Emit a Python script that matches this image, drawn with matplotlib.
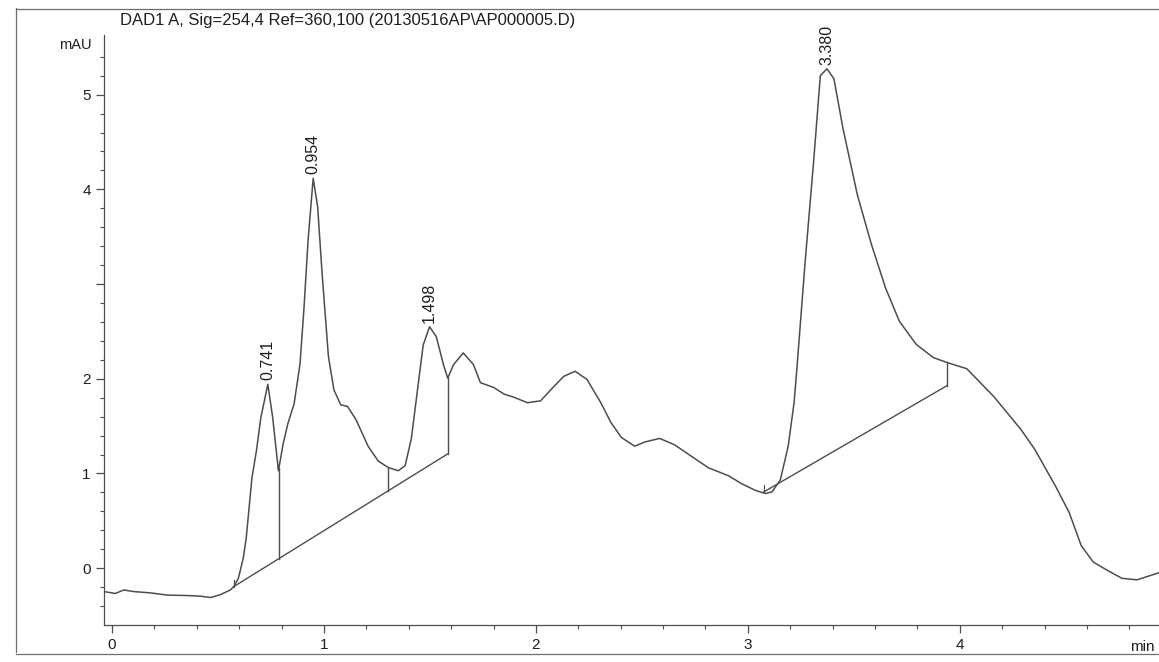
import numpy as np
import matplotlib.pyplot as plt
from matplotlib.lines import Line2D

plt.rcParams['font.family'] = ['Liberation Sans', 'DejaVu Sans']

# trace: retention time (min) and signal (mAU)
rt_min = [-0.031, 0.016, 0.055, 0.102, 0.181, 0.26, 0.37, 0.417, 0.465, 0.511,
          0.558, 0.574, 0.596, 0.619, 0.633, 0.660, 0.681, 0.702, 0.735, 0.758,
          0.785, 0.807, 0.829, 0.859, 0.887, 0.906, 0.925, 0.949, 0.97, 0.991,
          1.021, 1.047, 1.079, 1.111, 1.151, 1.208, 1.256, 1.304, 1.351, 1.383,
          1.412, 1.44, 1.468, 1.498, 1.53, 1.564, 1.584, 1.611, 1.657, 1.705,
          1.738, 1.801, 1.849, 1.896, 1.96, 2.022, 2.069, 2.131, 2.185, 2.241,
          2.306, 2.354, 2.403, 2.466, 2.513, 2.584, 2.655, 2.734, 2.814, 2.909,
          2.972, 3.036, 3.083, 3.114, 3.153, 3.19, 3.218, 3.231, 3.27, 3.31,
          3.342, 3.373, 3.406, 3.449, 3.517, 3.584, 3.65, 3.715, 3.795, 3.875,
          3.938, 4.033, 4.161, 4.289, 4.354, 4.451, 4.516, 4.573, 4.63, 4.709,
          4.765, 4.836, 4.914, 4.94]
signal_mau = [-0.25, -0.267, -0.23, -0.247, -0.261, -0.284, -0.29, -0.296, -0.31, -0.28,
              -0.23, -0.195, -0.107, 0.105, 0.317, 0.953, 1.236, 1.589, 1.942, 1.59,
              1.028, 1.31, 1.522, 1.735, 2.159, 2.759, 3.464, 4.117, 3.818, 3.113,
              2.234, 1.882, 1.725, 1.708, 1.569, 1.288, 1.131, 1.062, 1.029, 1.083,
              1.366, 1.86, 2.355, 2.549, 2.445, 2.146, 2.006, 2.148, 2.273, 2.151,
              1.959, 1.908, 1.839, 1.805, 1.747, 1.767, 1.881, 2.025, 2.079, 1.993,
              1.748, 1.538, 1.381, 1.288, 1.332, 1.37, 1.302, 1.181, 1.06, 0.976,
              0.89, 0.821, 0.788, 0.806, 0.931, 1.284, 1.744, 2.097, 3.226, 4.285,
              5.2, 5.273, 5.169, 4.642, 3.939, 3.412, 2.957, 2.607, 2.362, 2.224,
              2.173, 2.106, 1.811, 1.463, 1.254, 0.869, 0.589, 0.238, 0.064, -0.039,
              -0.107, -0.123, -0.067, -0.048]

peak_labels = ['0.741', '0.954', '1.498', '3.380']
peak_rt = [0.741, 0.954, 1.498, 3.380]

# integration baselines (start/end) and the drop lines on them
baselines = [([0.574, 1.584], [-0.195, 1.207]),
             ([3.075, 3.938], [0.805, 1.925])]
drop_rt = [[0.787, 1.304, 1.584], [3.938]]

y_ticks = [0, 1, 2, 3, 4, 5]
y_ticklabels = ['0', '1', '2', '', '4', '5']
x_ticks = [0, 1, 2, 3, 4]

line_c = '#4d4d4d'
text_c = '#1e1e1e'

fig = plt.figure(figsize=(11.59, 6.62), dpi=100)
ax = fig.add_axes([104 / 1159, 1 - 625 / 662, (1159 - 104) / 1159, 590 / 662])

t = np.array(rt_min)
s = np.array(signal_mau)
ax.plot(t, s, color=line_c, lw=1.1, solid_joinstyle='round')

for (bx, by), drops in zip(baselines, drop_rt):
    ax.plot(bx, by, color=line_c, lw=1.0)
    for d in drops:
        ax.plot([d, d], [np.interp(d, bx, by), np.interp(d, t, s)], color=line_c, lw=1.0)
    # start marker
    ax.plot([bx[0], bx[0]], [by[0], by[0] + 0.07], color=line_c, lw=0.8)

for lab, rt in zip(peak_labels, peak_rt):
    near = np.abs(t - rt) < 0.03
    i = np.argmax(np.where(near, s, -np.inf))
    ax.annotate(lab, xy=(t[i], s[i]), xytext=(0, 3), textcoords='offset points',
                rotation=90, ha='center', va='bottom', fontsize=11.5, color=text_c)

ax.set_xlim(-0.038, 4.94)
ax.set_ylim(-0.6, 5.63)
ax.set_xticks(x_ticks)
ax.set_xticks(np.arange(0, 4.95, 0.2), minor=True)
ax.set_yticks(y_ticks)
ax.set_yticklabels(y_ticklabels)
ax.set_yticks(np.arange(-0.4, 5.5, 0.2), minor=True)
ax.tick_params(which='major', length=6, width=0.9, color=line_c, labelsize=11,
               labelcolor=text_c, pad=3.5)
ax.tick_params(which='minor', length=3, width=0.8, color=line_c)
for side in ['top', 'right']:
    ax.spines[side].set_visible(False)
for side in ['left', 'bottom']:
    ax.spines[side].set_color(line_c)
    ax.spines[side].set_linewidth(0.9)

ax.annotate('min', xy=(4.86, 0), xycoords=('data', 'axes fraction'),
            xytext=(0, -11), textcoords='offset points', ha='center', va='top',
            fontsize=11, color=text_c)

fig.text(92 / 1159, 1 - 45 / 662, 'mAU', ha='right', va='center', fontsize=10.5, color=text_c)
fig.text(120 / 1159, 1 - 20 / 662, 'DAD1 A, Sig=254,4 Ref=360,100 (20130516AP\\AP000005.D)',
         ha='left', va='center', fontsize=12, color=text_c)

# page frame of the printout
frame_c = '#6e6e6e'
fig.add_artist(Line2D([16 / 1159, 16 / 1159], [1 - 8 / 662, 1 - 652 / 662],
                      transform=fig.transFigure, color=frame_c, lw=0.9))
fig.add_artist(Line2D([16 / 1159, 1], [1 - 9 / 662, 1 - 9 / 662],
                      transform=fig.transFigure, color=frame_c, lw=0.9))
fig.add_artist(Line2D([16 / 1159, 1], [1 - 654 / 662, 1 - 654 / 662],
                      transform=fig.transFigure, color=frame_c, lw=0.9))

fig.savefig('out.png', dpi=100)
